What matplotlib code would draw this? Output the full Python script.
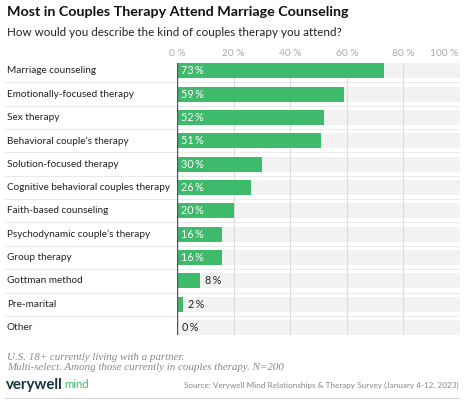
import matplotlib
matplotlib.use("Agg")
import matplotlib.pyplot as plt
from matplotlib.lines import Line2D

categories = ["Marriage counseling", "Emotionally-focused therapy", "Sex therapy",
              "Behavioral couple’s therapy", "Solution-focused therapy",
              "Cognitive behavioral couples therapy", "Faith-based counseling",
              "Psychodynamic couple’s therapy", "Group therapy", "Gottman method",
              "Pre-marital", "Other"]
values = [73, 59, 52, 51, 30, 26, 20, 16, 16, 8, 2, 0]
tick_values = [0, 20, 40, 60, 80, 100]
tick_labels = ["0 %", "20 %", "40 %", "60 %", "80 %", "100 %"]

W, H = 468, 400
fig = plt.figure(figsize=(W / 100, H / 100), dpi=100)
plt.rcParams['font.family'] = ['Lato', 'DejaVu Sans']

GREEN = "#3dba6a"
BAND = "#f2f2f2"
GRID = "#dcdcdc"
TEXT = "#222222"
GREY = "#888888"

def fx(px):
    return px / W

def fy(py):
    return 1 - py / H

ax_left, ax_right = 177, 460
ax_top, ax_bot = 63.3, 335
ax = fig.add_axes([fx(ax_left), fy(ax_bot), fx(ax_right - ax_left), (ax_bot - ax_top) / H])
bh = 0.64
n = len(categories)
ys = list(range(n))
ax.barh(ys, [100] * n, height=bh, color=BAND, zorder=0)
for t in tick_values[1:-1]:
    ax.axvline(t, color=GRID, lw=0.8, zorder=1)
ax.barh(ys, values, height=bh, color=GREEN, zorder=2)
ax.axvline(0, color="#555555", lw=1.0, zorder=3)
ax.set_xlim(0, 100)
ax.set_ylim(n - 1 + bh / 2, -bh / 2)
ax.axis("off")

label_x = -170 / 283 * 100
for y, (cat, v) in enumerate(zip(categories, values)):
    lab = f"{v}\u2009%"
    if v >= 12:
        ax.text(1.3, y, lab, color="white", fontsize=7.8, va="center", ha="left", zorder=4)
    else:
        ax.text(v + 1.8, y, lab, color=TEXT, fontsize=7.8, va="center", ha="left", zorder=4)
    ax.text(label_x, y, cat, color=TEXT, fontsize=7.2, va="center", ha="left", clip_on=False)

# tick labels on top
for t, lab in zip(tick_values, tick_labels):
    if t == 100:
        ax.text(99.3, -bh / 2 - 0.42, lab, color="#aaaaaa", fontsize=7.3, ha="right", va="center", clip_on=False)
    else:
        ax.text(t, -bh / 2 - 0.42, lab, color="#aaaaaa", fontsize=7.3, ha="center", va="center", clip_on=False)

# separators between rows
for i in range(n - 1):
    yy = i + 0.5
    yp = ax.transData.transform((0, yy))[1] / fig.bbox.height
    fig.add_artist(Line2D([fx(5), fx(459)], [yp, yp],
                          transform=fig.transFigure, color="#e6e6e6", lw=0.6, zorder=0))

fig.text(fx(7), fy(12), "Most in Couples Therapy Attend Marriage Counseling",
         fontsize=10.3, fontweight="bold", color="#111111", va="center", ha="left")
fig.text(fx(7), fy(32), "How would you describe the kind of couples therapy you attend?",
         fontsize=8.4, color=TEXT, va="center", ha="left")

fig.text(fx(7), fy(357), "U.S. 18+ currently living with a partner.",
         fontsize=7.9, style="italic", color=GREY, family=["Liberation Serif"], va="center", ha="left")
fig.text(fx(7), fy(368), "Multi-select. Among those currently in couples therapy. N=200",
         fontsize=7.9, style="italic", color=GREY, family=["Liberation Serif"], va="center", ha="left")

t1 = fig.text(fx(6), fy(385), "verywell", fontsize=10.8, fontweight="bold", color="#16353a",
              va="center", ha="left")
fig.canvas.draw()
bb = t1.get_window_extent()
fig.text(bb.x1 / W + 1.5 / W, fy(385), "mind", fontsize=8.2, color=GREEN, va="center", ha="left")

fig.text(fx(459), fy(385), "Source: Verywell Mind Relationships & Therapy Survey (January 4-12, 2023)",
         fontsize=5.9, color=GREY, va="center", ha="right")

fig.add_artist(Line2D([fx(5), fx(459)], [fy(398), fy(398)], transform=fig.transFigure,
                      color="#d8d8d8", lw=0.8))

fig.savefig("out.png", dpi=100)
